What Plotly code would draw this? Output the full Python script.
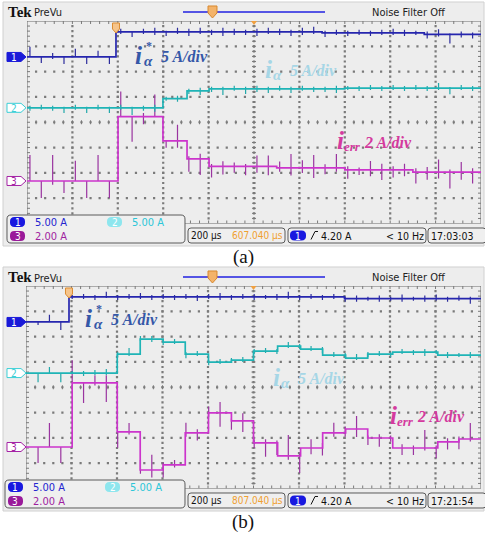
import plotly.graph_objects as go

W, H = 485, 540
SANS = "Liberation Sans Narrow, DejaVu Sans Condensed, Liberation Sans, Arial, sans-serif"
SERIF = "Liberation Serif, Times New Roman, serif"

# ---------------- scope settings ----------------
T_SPAN = 2000.0                 # 10 div x 200 us/div
SCALE = [5.0, 5.0, 2.0]         # A/div, channels 1..3
TRACE_COLORS = ["#2626ae", "#1fb4b6", "#cc34cc"]
SPIKE_COLORS = ["#2c2c9c", "#22a8aa", "#9a34a0"]

# ---------------- panel (a) ----------------
A_OFFSET = [2.58, 0.57, -2.32]  # channel ground position, div from centre
A_CH1_T = [0, 392, 1300, 1750, 2000]
A_CH1_I = [0.0, 4.95, 4.75, 4.45]
A_CH2_T = [0, 599, 705, 802, 1400, 2000]
A_CH2_I = [0.0, 1.80, 3.35, 3.75, 3.90]
A_CH3_T = [0, 401, 599, 705, 802, 1100, 1400, 1700, 2000]
A_CH3_I = [0.0, 5.08, 3.17, 1.75, 1.15, 1.03, 0.87, 0.70]
A_SPIKE_T = [13, 63, 113, 163, 213, 263, 313, 363, 413, 463,
             513, 563, 613, 663, 713, 763, 813, 863, 913, 963,
             1013, 1063, 1113, 1163, 1213, 1263, 1313, 1363, 1413, 1463,
             1513, 1563, 1613, 1663, 1713, 1763, 1813, 1863, 1913, 1963]
A_CH1_UP = [2.0, 0.0, 0.8, 0.0, 1.6, 0.0, 1.2, 0.0, 0.6, 0.0,
            0.6, 0.8, 0.2, 0.8, 0.6, 0.8, 0.4, 0.8, 0.6, 0.4,
            0.6, 0.8, 0.6, 0.4, 0.8, 1.0, 0.4, 0.6, 0.4, 0.6,
            0.4, 0.6, 0.8, 0.6, 0.4, 0.6, 1.0, 0.2, 0.6, 0.4]
A_CH1_DN = [0.0, -1.2, -0.4, -1.4, 0.0, -1.4, 0.0, -1.4, -0.4, -1.0,
            -0.4, -0.6, -0.8, -0.4, -0.8, -0.4, -0.6, -0.8, -0.6, -0.6,
            -0.8, -0.4, -0.6, -0.8, -0.6, -0.4, -0.8, -0.4, -0.6, -0.4,
            -0.6, -0.4, -0.4, -0.6, -0.4, -0.8, -0.4, -1.8, -0.6, -0.8]
A_CH2_UP = [0.4, 0.6, 0.4, 0.2, 0.6, 0.2, 0.6, 0.2, 0.6, 0.2,
            0.4, 0.6, 0.4, 0.6, 0.4, 0.6, 0.4, 0.4, 0.6, 0.4,
            0.6, 0.4, 0.6, 0.4, 0.6, 0.4, 0.4, 0.6, 0.4, 0.4,
            0.6, 0.4, 0.6, 0.4, 0.6, 0.4, 1.0, 0.2, 0.6, 0.4]
A_CH2_DN = [-0.6, -0.4, -0.6, -1.0, -0.4, -1.0, -0.4, -1.0, -0.4, -1.4,
            -0.6, -0.8, -0.4, -0.6, -0.6, -0.8, -0.6, -1.2, -0.4, -1.0,
            -0.6, -0.8, -0.4, -0.8, -0.4, -0.6, -0.6, -0.8, -0.4, -0.6,
            -0.4, -0.6, -0.4, -0.6, -0.4, -0.6, -0.4, -1.2, -0.4, -0.6]
A_CH3_UP = [2.06, 0.0, 2.06, 0.0, 1.6, 0.0, 2.06, 0.0, 1.98, 0.0,
            0.3, 1.75, 0.0, 1.27, 0.2, 0.4, 0.2, 0.4, 0.3, 0.2,
            0.87, 0.87, 0.5, 1.1, 0.6, 1.03, 0.3, 1.1, 0.3, 0.2,
            0.7, 0.5, 0.3, 0.5, 0.3, 0.4, 1.0, 0.2, 0.8, 0.3]
A_CH3_DN = [0.0, -1.35, -0.3, -0.95, 0.0, -1.35, 0.0, -1.35, 0.0, -1.98,
            -0.6, 0.0, -0.55, -0.55, -1.03, -1.27, -0.87, -0.63, -0.5, -0.7,
            -0.5, -0.7, -0.3, -0.6, -0.4, -0.8, -0.5, -0.3, -0.7, -0.4,
            -0.5, -0.8, -0.6, -0.5, -0.9, -0.6, -0.5, -1.3, -0.6, -0.9]

# ---------------- panel (b) ----------------
B_OFFSET = [2.58, 0.56, -2.36]
B_CH1_T = [0, 189, 1400, 2000]
B_CH1_I = [0.0, 4.94, 4.6]
B_CH2_T = [0, 401, 502, 603, 700, 802, 903, 1000, 1106, 1207, 1304, 1405, 1502, 1612, 1810, 2000]
B_CH2_I = [0.0, 3.75, 6.72, 6.13, 3.75, 2.17, 2.57, 4.35, 5.34, 4.74, 3.56, 2.96, 3.75, 4.15, 3.56]
B_CH3_T = [0, 203, 401, 502, 603, 700, 802, 903, 1000, 1106, 1207, 1304, 1405, 1502, 1612, 1810, 1903, 2000]
B_CH3_I = [0.0, 5.06, 1.19, -1.82, -1.42, 1.11, 2.69, 2.06, 0.32, -0.71, -0.08, 1.11, 1.42, 0.71, -0.08, 0.40, 0.63]
B_SPIKE_T = [53, 103, 153, 203, 253, 303, 353, 403, 453, 503,
             553, 603, 653, 703, 753, 803, 853, 903, 953, 1003,
             1053, 1103, 1153, 1203, 1253, 1303, 1353, 1403, 1453, 1503,
             1553, 1603, 1653, 1703, 1753, 1803, 1853, 1903, 1953]
B_CH1_UP = [0.0, 1.4, 0.0, 0.4, 0.6, 0.4, 1.0, 0.4, 0.6, 0.8,
            0.4, 0.6, 0.4, 0.6, 0.4, 0.6, 0.8, 0.4, 0.6, 0.6,
            0.4, 0.6, 1.0, 0.4, 0.6, 0.4, 0.6, 0.4, 0.6, 0.4,
            0.6, 0.4, 0.8, 0.4, 0.6, 0.8, 0.4, 0.6, 0.4]
B_CH1_DN = [-0.6, 0.0, -1.6, -0.4, -0.4, -0.6, -0.2, -0.6, -0.4, -0.4,
            -0.6, -0.4, -0.6, -0.4, -0.8, -0.4, -0.6, -0.6, -0.4, -0.6,
            -0.4, -0.6, -0.4, -0.6, -0.4, -0.6, -0.4, -0.6, -0.6, -0.4,
            -0.6, -0.4, -0.6, -0.4, -0.6, -0.4, -0.6, -0.4, -1.0]
B_CH2_UP = [0.0, 1.2, 0.0, 0.4, 0.4, 0.6, 0.8, 0.4, 1.2, 0.6,
            0.6, 0.4, 0.6, 0.4, 0.6, 0.4, 0.6, 0.4, 0.6, 0.4,
            0.6, 0.4, 0.8, 0.4, 0.6, 0.4, 0.6, 0.4, 0.8, 0.4,
            0.6, 0.4, 0.6, 0.4, 0.6, 0.4, 0.6, 0.4, 0.6]
B_CH2_DN = [-1.8, 0.0, -1.8, -0.2, -0.6, -0.4, -0.4, -0.6, -0.4, -0.4,
            -0.6, -0.6, -0.4, -0.8, -0.4, -0.6, -0.4, -0.6, -0.4, -0.6,
            -0.4, -0.6, -0.4, -0.6, -0.4, -0.8, -0.4, -0.6, -0.4, -0.6,
            -0.4, -0.6, -0.4, -0.6, -0.8, -0.4, -0.6, -0.4, -0.6]
B_CH3_UP = [0.0, 1.9, 0.0, 1.8, 0.0, 0.6, 0.6, 0.0, 0.7, 0.8,
            1.2, 0.2, 0.4, 0.8, 0.3, 0.5, 0.87, 0.2, 0.6, 0.3,
            0.3, 0.2, 1.66, 0.2, 0.7, 0.4, 0.8, 0.5, 1.03, 0.2,
            0.3, 0.2, 0.3, 0.2, 1.42, 0.2, 0.3, 0.2, 1.26]
B_CH3_DN = [-1.26, 0.0, -1.26, 0.0, -1.58, -0.2, -1.5, -1.26, -0.2, -0.3,
            -0.6, -1.0, -0.2, -0.3, -0.6, -0.3, -1.1, -0.7, -0.87, -0.4,
            -1.1, -0.95, -0.3, -1.35, -0.5, -0.6, -0.3, -0.3, -0.63, -0.55,
            -0.7, -0.3, -0.55, -0.55, -0.2, -0.8, -0.6, -0.8, -0.2]

# readouts
CH_SETTINGS = ["5.00 A", "5.00 A", "2.00 A"]
TIMEBASE = "200 µs"
TRIGGER_LEVEL = "4.20 A"
TRIGGER_FREQ = "< 10 Hz"

PANELS = [
    dict(xa="x", ya="y", gx=(27, 481), gy=(21, 223.5), dy=0, idx=0,
         offset=A_OFFSET, trig=392, pos="607.040 µs", clock="17:03:03", tag="(a)",
         steps=[(A_CH1_T, A_CH1_I), (A_CH2_T, A_CH2_I), (A_CH3_T, A_CH3_I)],
         spike_t=A_SPIKE_T,
         spikes=[(A_CH1_UP, A_CH1_DN), (A_CH2_UP, A_CH2_DN), (A_CH3_UP, A_CH3_DN)],
         labels=dict(ref=(134, 55), meas=(264, 69), err=(336, 141))),
    dict(xa="x2", ya="y2", gx=(26, 481), gy=(286, 488.5), dy=265, idx=-2,
         offset=B_OFFSET, trig=189, pos="807.040 µs", clock="17:21:54", tag="(b)",
         steps=[(B_CH1_T, B_CH1_I), (B_CH2_T, B_CH2_I), (B_CH3_T, B_CH3_I)],
         spike_t=B_SPIKE_T,
         spikes=[(B_CH1_UP, B_CH1_DN), (B_CH2_UP, B_CH2_DN), (B_CH3_UP, B_CH3_DN)],
         labels=dict(ref=(84, 318), meas=(272, 377), err=(389, 415))),
]

fig = go.Figure()


def P(x, y):
    return f"{x / W:.5f},{1 - y / H:.5f}"


def poly(pts):
    return "M " + " L ".join(P(x, y) for x, y in pts) + " Z"


def rrect(x0, y0, x1, y1, r):
    return (f"M {P(x0 + r, y0)} L {P(x1 - r, y0)} Q {P(x1, y0)} {P(x1, y0 + r)} "
            f"L {P(x1, y1 - r)} Q {P(x1, y1)} {P(x1 - r, y1)} L {P(x0 + r, y1)} "
            f"Q {P(x0, y1)} {P(x0, y1 - r)} L {P(x0, y0 + r)} Q {P(x0, y0)} {P(x0 + r, y0)} Z")


def shape_path(path, fill, line=None, width=1, layer="above"):
    fig.add_shape(type="path", path=path, xref="paper", yref="paper", layer=layer,
                  fillcolor=fill, line=dict(color=line or fill, width=width if line else 0))


def text(x, y, s, size, color, family=SANS, anchor="left", bold=False, italic=False):
    fig.add_annotation(x=x / W, y=1 - y / H, xref="paper", yref="paper", text=s,
                       showarrow=False, xanchor=anchor, yanchor="middle", borderpad=0,
                       font=dict(family=family, size=size, color=color,
                                 weight="bold" if bold else "normal",
                                 style="italic" if italic else "normal"))


def level_at(ts, levels, t):
    for i in range(len(levels)):
        if ts[i] <= t < ts[i + 1]:
            return levels[i]
    return levels[-1]


def graticule(p):
    xa, ya = p["xa"], p["ya"]
    gx0, gx1 = p["gx"]
    gy0, gy1 = p["gy"]
    ux = T_SPAN / (gx1 - gx0)        # data units per pixel
    uy = 8.0 / (gy1 - gy0)
    dx, dy = [], []
    for i in range(1, 10):
        for j in range(1, 40):
            dx.append(i * 200); dy.append(-4 + 0.2 * j)
    for i in range(1, 8):
        for j in range(1, 50):
            dx.append(j * 40); dy.append(-4 + i)
    fig.add_trace(go.Scatter(x=dx, y=dy, xaxis=xa, yaxis=ya, mode="markers",
                             marker=dict(symbol="square", size=2.2, color="#7a7a7a", line=dict(width=0)),
                             hoverinfo="skip"))
    tx, ty = [], []
    for j in range(1, 40):
        y = -4 + 0.2 * j
        tx += [1000 - 2 * ux, 1000 + 2 * ux, None]; ty += [y, y, None]
        tx += [0, 3 * ux, None]; ty += [y, y, None]
        tx += [T_SPAN - 3 * ux, T_SPAN, None]; ty += [y, y, None]
    for j in range(1, 50):
        x = j * 40
        tx += [x, x, None]; ty += [-2 * uy, 2 * uy, None]
        tx += [x, x, None]; ty += [4, 4 - 3 * uy, None]
        tx += [x, x, None]; ty += [-4, -4 + 3 * uy, None]
    fig.add_trace(go.Scatter(x=tx, y=ty, xaxis=xa, yaxis=ya, mode="lines",
                             line=dict(color="#7a7a7a", width=1), hoverinfo="skip"))
    fig.add_shape(type="rect", xref=xa, yref=ya, x0=0, x1=T_SPAN, y0=-4, y1=4,
                  line=dict(color="#6a6a6a", width=1), layer="below")


def channels(p):
    xa, ya = p["xa"], p["ya"]
    for ch in (2, 1, 0):
        ts, lv = p["steps"][ch]
        off, sc = p["offset"][ch], SCALE[ch]
        up, dn = p["spikes"][ch]
        sx, sy = [], []
        for t, u, d in zip(p["spike_t"], up, dn):
            base = level_at(ts, lv, t)
            sx += [t, t, None]
            sy += [off + (base + d) / sc, off + (base + u) / sc, None]
        fig.add_trace(go.Scatter(x=sx, y=sy, xaxis=xa, yaxis=ya, mode="lines",
                                 line=dict(color=SPIKE_COLORS[ch], width=1.2), hoverinfo="skip"))
        fig.add_trace(go.Scatter(x=list(ts), y=[off + v / sc for v in lv] + [off + lv[-1] / sc],
                                 xaxis=xa, yaxis=ya, mode="lines", line_shape="hv",
                                 line=dict(color=TRACE_COLORS[ch], width=1.7), hoverinfo="skip"))


def chrome(p):
    d = p["dy"]
    gx0, gx1 = p["gx"]
    gy0, gy1 = p["gy"]
    ix = p["idx"]
    # instrument bezel
    shape_path(poly([(3, 2 + d), (484, 2 + d), (484, 246 + d), (3, 246 + d)]),
               "#ededed", "#d0d0d0", 1, layer="below")
    # header
    text(7, 12 + d, "Tek", 15, "#111111", family=SERIF, bold=True)
    text(33, 13 + d, "PreVu", 11, "#222222")
    fig.add_shape(type="line", xref="paper", yref="paper", x0=183 / W, x1=325 / W,
                  y0=1 - (12 + d) / H, y1=1 - (12 + d) / H, line=dict(color="#2020e0", width=1.5))
    shape_path(poly([(208, 6 + d), (217, 6 + d), (217, 13 + d), (212.5, 18 + d), (208, 13 + d)]),
               "#f3b36a", "#d8882e", 1)
    text(371, 12 + d, "Noise Filter Off", 11, "#222222")
    # trigger position / delay markers on top edge
    tpx = gx0 + p["trig"] / T_SPAN * (gx1 - gx0)
    shape_path(poly([(tpx - 3.5, gy0 + 2), (tpx + 3.5, gy0 + 2), (tpx + 3.5, gy0 + 8),
                     (tpx, gy0 + 12), (tpx - 3.5, gy0 + 8)]), "#f6c48a", "#dc8c32", 1)
    cx = (gx0 + gx1) / 2
    shape_path(poly([(cx - 3, gy0), (cx + 3, gy0), (cx, gy0 + 4)]), "#f0a040")
    # channel ground markers
    styles = [("#1a1ad8", "#1a1ad8", "white"), ("#ffffff", "#3ccfd6", "#3ccfd6"),
              ("#ffffff", "#a422a4", "#a422a4")]
    for ch in range(3):
        ypx = gy0 + (4 - p["offset"][ch]) / 8.0 * (gy1 - gy0)
        fill, edge, tcol = styles[ch]
        shape_path(poly([(7, ypx - 4.5), (21, ypx - 4.5), (26, ypx), (21, ypx + 4.5), (7, ypx + 4.5)]),
                   fill, edge, 1)
        text(14, ypx + 0.5, str(ch + 1), 10, tcol, anchor="center")
    # vertical scale readout
    shape_path(rrect(7 + ix, 215 + d, 185, 243 + d, 4), "#efefef", "#5a5a5a", 1)
    pills = [(10 + ix, 222 + d, "#1818e0", "#2424d0"), (107 + ix, 222 + d, "#8ee6ee", "#2cc6d8"),
             (10 + ix, 236 + d, "#9a1a9a", "#a01ea0")]
    for ch, (x0, yc, pc, tc) in enumerate(pills):
        shape_path(rrect(x0, yc - 5, x0 + 15, yc + 5, 4.5), pc)
        text(x0 + 7.5, yc + 0.5, str(ch + 1), 10, "white", anchor="center")
        text(x0 + 24, yc, CH_SETTINGS[ch], 11, tc)
    # horizontal / trigger status bar
    yb0, yb1 = 228 + d, 243 + d
    ym = (yb0 + yb1) / 2
    shape_path(rrect(188, yb0, 285, yb1, 3), "#efefef", "#5a5a5a", 1)
    text(190, ym, TIMEBASE, 10, "#111111")
    text(284, ym, p["pos"], 10, "#f0a030", anchor="right")
    shape_path(rrect(288, yb0, 426, yb1, 3), "#efefef", "#5a5a5a", 1)
    shape_path(rrect(290, ym - 5, 306, ym + 5, 4.5), "#1818e0")
    text(298, ym + 0.5, "1", 10, "white", anchor="center")
    fig.add_shape(type="path", xref="paper", yref="paper", layer="above",
                  path=f"M {P(311, ym + 4)} L {P(315, ym - 4)} L {P(318, ym - 4)}",
                  line=dict(color="#111111", width=1))
    text(320, ym, TRIGGER_LEVEL, 10.5, "#111111")
    text(425, ym, TRIGGER_FREQ, 10.5, "#111111", anchor="right")
    shape_path(rrect(428, yb0, 486, yb1, 3), "#efefef", "#5a5a5a", 1)
    text(430, ym, p["clock"], 10.5, "#111111")
    # figure tag
    text(243, 257 + d, p["tag"], 19, "#111111", family=SERIF, anchor="center")


def trace_labels(p):
    C_REF, C_MEAS, C_ERR = "#3558a8", "#a6d6e6", "#d43a9e"
    x, y = p["labels"]["ref"]
    text(x, y, "i", 25, C_REF, SERIF, bold=True, italic=True)
    text(x + 11, y - 9, "*", 12, C_REF, SERIF, bold=True)
    text(x + 9, y + 6, "α", 15, C_REF, SERIF, bold=True, italic=True)
    text(x + 26, y + 1, "5 A/div", 16, C_REF, SERIF, bold=True, italic=True)
    x, y = p["labels"]["meas"]
    text(x, y, "i", 25, C_MEAS, SERIF, bold=True, italic=True)
    text(x + 8, y + 6, "α", 15, C_MEAS, SERIF, bold=True, italic=True)
    text(x + 25, y + 1, "5 A/div", 16, C_MEAS, SERIF, bold=True, italic=True)
    x, y = p["labels"]["err"]
    text(x, y, "i", 25, C_ERR, SERIF, bold=True, italic=True)
    text(x + 7, y + 6, "err", 13, C_ERR, SERIF, bold=True, italic=True)
    text(x + 27, y + 1, "2 A/div", 16, C_ERR, SERIF, bold=True, italic=True)


for p in PANELS:
    graticule(p)
    channels(p)
    chrome(p)
    trace_labels(p)

ax = dict(visible=False, showgrid=False, zeroline=False, fixedrange=True)
pa, pb = PANELS
fig.update_layout(
    width=W, height=H, margin=dict(l=0, r=0, t=0, b=0),
    paper_bgcolor="white", plot_bgcolor="white", showlegend=False, hovermode=False,
    xaxis=dict(domain=[pa["gx"][0] / W, pa["gx"][1] / W], range=[0, T_SPAN], anchor="y", **ax),
    yaxis=dict(domain=[1 - pa["gy"][1] / H, 1 - pa["gy"][0] / H], range=[-4, 4], anchor="x", **ax),
    xaxis2=dict(domain=[pb["gx"][0] / W, pb["gx"][1] / W], range=[0, T_SPAN], anchor="y2", **ax),
    yaxis2=dict(domain=[1 - pb["gy"][1] / H, 1 - pb["gy"][0] / H], range=[-4, 4], anchor="x2", **ax),
)

fig.write_html("out.html")
